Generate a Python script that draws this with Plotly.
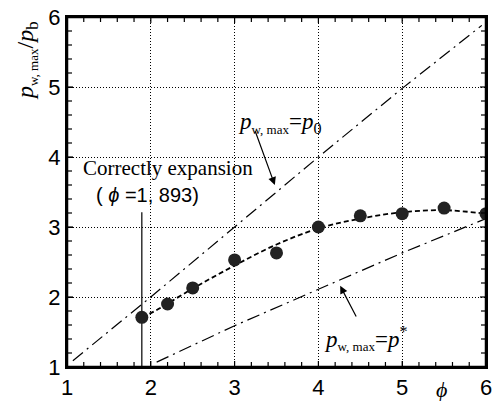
import plotly.graph_objects as go

# measured data
phi_meas = [1.893, 2.2, 2.5, 3.0, 3.5, 4.0, 4.5, 5.0, 5.5, 6.0]
pw_meas = [1.71, 1.90, 2.13, 2.53, 2.63, 3.00, 3.16, 3.19, 3.27, 3.19]

# fitted trend (dashed)
phi_fit = [1.893, 2.0, 2.5, 3.0, 3.5, 4.0, 4.5, 5.0, 5.5, 6.0]
pw_fit = [1.72, 1.77, 2.12, 2.45, 2.75, 2.98, 3.12, 3.21, 3.24, 3.19]

# p_w,max = p0 line
phi_p0 = [1.07, 2.0, 3.0, 4.0, 5.0, 5.95]
pw_p0 = [1.09, 2.0, 3.0, 4.0, 4.98, 5.88]

# p_w,max = p* line
phi_ps = [2.07, 3.0, 4.0, 5.0, 6.0]
pw_ps = [1.07, 1.59, 2.11, 2.63, 3.12]

# correct expansion marker line
phi_correct = 1.893
correct_y = [1.0, 3.21]

# axis ticks
axis_range = [1, 6]
major_ticks = [1, 2, 3, 4, 5, 6]
minor_step = 0.2

tick_font = dict(family="Liberation Sans Narrow, Liberation Sans, Arial, sans-serif", size=22, color="black")
serif = "Liberation Serif, Times New Roman, serif"

W, H = 495, 401
ML, MR, MT, MB = 67, 9, 17, 34

fig = go.Figure()
fig.add_trace(go.Scatter(x=phi_p0, y=pw_p0, mode="lines",
                         line=dict(color="black", width=1.2, dash="13px,5px,2px,5px"), hoverinfo="skip"))
fig.add_trace(go.Scatter(x=phi_ps, y=pw_ps, mode="lines",
                         line=dict(color="black", width=1.2, dash="13px,5px,2px,5px"), hoverinfo="skip"))
fig.add_trace(go.Scatter(x=phi_fit, y=pw_fit, mode="lines",
                         line=dict(color="black", width=1.8, dash="5px,3px"), line_shape="spline", hoverinfo="skip"))
fig.add_trace(go.Scatter(x=[phi_correct, phi_correct], y=correct_y, mode="lines",
                         line=dict(color="black", width=1.2), hoverinfo="skip"))
fig.add_trace(go.Scatter(x=phi_meas, y=pw_meas, mode="markers",
                         marker=dict(color="#222222", size=13), hoverinfo="skip"))

lo, hi = axis_range
span = hi - lo
n_minor = int(round(span / minor_step))
all_ticks = [lo + i * minor_step for i in range(n_minor + 1)]

shapes = []
# frame
shapes.append(dict(type="rect", xref="x", yref="y", x0=lo, x1=hi, y0=lo, y1=hi,
                   line=dict(color="black", width=2.5), fillcolor="rgba(0,0,0,0)", layer="above"))
# inside tick marks on all four sides, lengths in pixels
for t in all_ticks:
    is_major = any(abs(t - m) < 1e-6 for m in major_ticks)
    L = 6 if is_major else 5
    shapes.append(dict(type="line", xref="x", yref="y", ysizemode="pixel", yanchor=lo,
                       x0=t, x1=t, y0=0, y1=L, line=dict(color="black", width=1.2), layer="above"))
    shapes.append(dict(type="line", xref="x", yref="y", ysizemode="pixel", yanchor=hi,
                       x0=t, x1=t, y0=0, y1=-L, line=dict(color="black", width=1.2), layer="above"))
    shapes.append(dict(type="line", xref="x", yref="y", xsizemode="pixel", xanchor=lo,
                       x0=0, x1=L, y0=t, y1=t, line=dict(color="black", width=1.2), layer="above"))
    shapes.append(dict(type="line", xref="x", yref="y", xsizemode="pixel", xanchor=hi,
                       x0=0, x1=-L, y0=t, y1=t, line=dict(color="black", width=1.2), layer="above"))

axis_common = dict(
    showline=True, linecolor="black", linewidth=2, mirror=True,
    ticks="inside", ticklen=6, tickwidth=1.2, tickcolor="black",
    showgrid=True, gridcolor="black", gridwidth=1, griddash="1px,2px",
    zeroline=False, tickfont=tick_font, automargin=False,
    tickvals=major_ticks,
)
fig.update_xaxes(range=axis_range, **axis_common)
fig.update_yaxes(range=axis_range, **axis_common)

sub = "<span style='font-size:13px'>w, max</span>"
ann = []
ann.append(dict(x=2.2, y=3.84, xref="x", yref="y", text="Correctly expansion", showarrow=False,
                font=dict(family=serif, size=21, color="black")))
ann.append(dict(x=1.955, y=3.46, xref="x", yref="y", text="( <i>ϕ</i> =1, 893)", showarrow=False,
                font=dict(family=tick_font["family"], size=20, color="black")))
ann.append(dict(x=3.53, y=4.49, xref="x", yref="y",
                text="<i>p</i><sub>" + sub + "</sub>=<i>p</i><sub>0</sub>", showarrow=False,
                font=dict(family=serif, size=23, color="black")))
ann.append(dict(x=4.56, y=1.41, xref="x", yref="y",
                text="<i>p</i><sub>" + sub + "</sub>=<i>p</i><sup>*</sup>", showarrow=False,
                font=dict(family=serif, size=23, color="black")))
ann.append(dict(x=3.48, y=3.6, xref="x", yref="y", ax=3.24, ay=4.39, axref="x", ayref="y",
                text="", showarrow=True, arrowhead=2, arrowsize=1.3, arrowwidth=1.2, arrowcolor="black"))
ann.append(dict(x=4.26, y=2.16, xref="x", yref="y", ax=4.46, ay=1.70, axref="x", ayref="y",
                text="", showarrow=True, arrowhead=2, arrowsize=1.3, arrowwidth=1.2, arrowcolor="black"))
ann.append(dict(x=5.47, y=-0.065, xref="x", yref="paper", text="<i>ϕ</i>", showarrow=False,
                xanchor="center", yanchor="middle",
                font=dict(family=serif, size=22, color="black")))
ann.append(dict(x=-0.095, y=0.875, xref="paper", yref="paper", textangle=-90,
                xanchor="center", yanchor="middle",
                text="<i>p</i><sub>" + sub + "</sub>/<i>p</i><sub>b</sub>", showarrow=False,
                font=dict(family=serif, size=24, color="black")))

fig.update_layout(
    width=W, height=H, margin=dict(l=ML, r=MR, t=MT, b=MB, autoexpand=False),
    plot_bgcolor="white", paper_bgcolor="white", showlegend=False,
    annotations=ann, shapes=shapes,
)
fig.write_html("out.html")
